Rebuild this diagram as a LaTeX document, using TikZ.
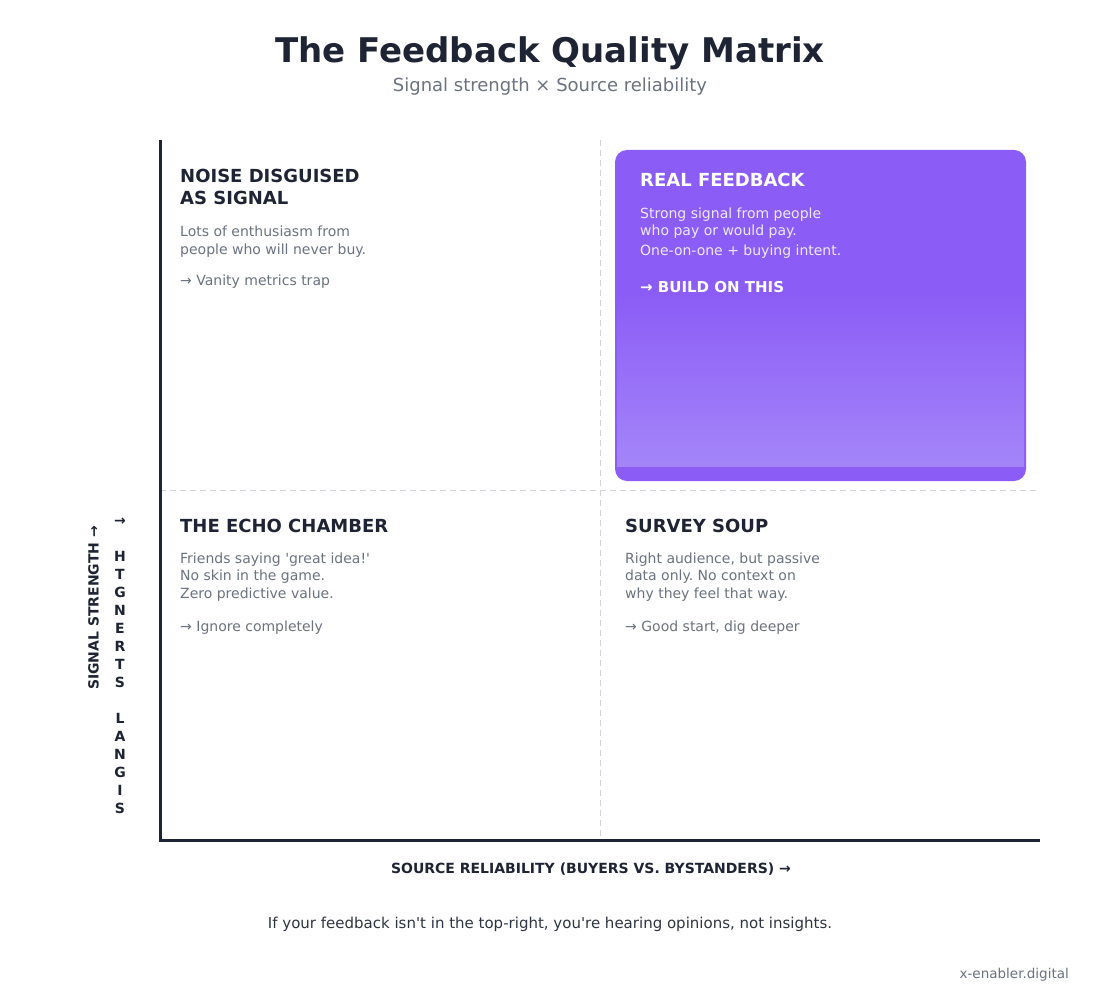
\documentclass[tikz,border=0pt]{standalone}
\usepackage{fontspec}
\setmainfont{DejaVu Sans}
\usetikzlibrary{positioning,calc}
\frenchspacing
\definecolor{InkDark}{HTML}{1E2433}
\definecolor{MutedGray}{HTML}{6B7280}
\definecolor{QuoteInk}{HTML}{2D3442}
\definecolor{GridGray}{HTML}{D1D5DB}
\definecolor{VioletMain}{HTML}{8B5CF6}
\definecolor{VioletLight}{HTML}{A485F9}
\definecolor{VioletText}{HTML}{EEE9FE}

\begin{document}
\begin{tikzpicture}[x=1pt, y=-1pt,
    every node/.style={inner sep=0pt, align=left},
    titletext/.style={anchor=base, font=\fontsize{34}{40}\selectfont\bfseries, text=InkDark},
    subtext/.style={anchor=base, font=\fontsize{18}{22}\selectfont, text=MutedGray},
    quadhead/.style={anchor=base west, font=\fontsize{18}{22}\selectfont\bfseries, text=InkDark},
    quadbody/.style={anchor=base west, font=\fontsize{14}{17.5}\selectfont, text=MutedGray},
    realhead/.style={quadhead, text=white},
    realbody/.style={quadbody, text=VioletText},
    realnote/.style={anchor=base west, font=\fontsize{15}{18}\selectfont\bfseries, text=white},
    axistext/.style={font=\fontsize{14}{18}\selectfont\bfseries, text=InkDark},
    axisline/.style={draw=InkDark, line width=3pt},
    gridline/.style={draw=GridGray, line width=1pt, dash pattern=on 6pt off 4pt}
  ]
    % canvas
    \fill[white] (0,0) rectangle (1100,1000);
    \useasboundingbox (0,0) rectangle (1100,1000);

    \node[titletext] (title) at (550,63) {The Feedback Quality Matrix};
    \node[subtext] (subtitle) at (550,92) {Signal strength × Source reliability};

    % axes and grid
    \coordinate (origin) at (160,840);
    \coordinate (ytop) at (160,140);
    \coordinate (xend) at (1040,840);
    \coordinate (midtop) at (600,140);
    \coordinate (midbot) at (600,840);
    \coordinate (midleft) at (160,490);
    \coordinate (midright) at (1040,490);
    \draw[gridline] (midtop) -- (midbot);
    \draw[gridline] (midleft) -- (midright);
    \draw[axisline] ([yshift=-1.5pt]origin) -- (ytop);
    \draw[axisline] (origin) -- (xend);

    % highlighted quadrant
    \fill[VioletMain, rounded corners=12pt] (615,150) rectangle (1026,481);
    \shade[top color=VioletMain, bottom color=VioletLight] (617,290) rectangle (1024,466);

    % quadrants (multi-line nodes sit on their last baseline)
    \node[quadhead] (noisehead) at (180,205) {NOISE DISGUISED\\AS SIGNAL};
    \node[quadbody] (noisebody) at (180,254.5) {Lots of enthusiasm from\\people who will never buy.};
    \node[quadbody] (noisenote) at (180,286) {→ Vanity metrics trap};

    \node[realhead] (realhead) at (640,187) {REAL FEEDBACK};
    \node[realbody] (realbody) at (640,256) {Strong signal from people\\who pay or would pay.\\[2.5pt]One-on-one + buying intent.};
    \node[realnote] (realnote) at (640,292) {→ BUILD ON THIS};

    \node[quadhead] (echohead) at (180,532) {THE ECHO CHAMBER};
    \node[quadbody] (echobody) at (180,598) {Friends saying \textquotesingle great idea!\textquotesingle\\No skin in the game.\\Zero predictive value.};
    \node[quadbody] (echonote) at (180,631) {→ Ignore completely};

    \node[quadhead] (souphead) at (625,532) {SURVEY SOUP};
    \node[quadbody] (soupbody) at (625,598) {Right audience, but passive\\data only. No context on\\why they feel that way.};
    \node[quadbody] (soupnote) at (625,631) {→ Good start, dig deeper};

    % axis labels
    \node[axistext, anchor=base] (xlabel) at (591,873) {SOURCE RELIABILITY (BUYERS VS. BYSTANDERS) →};
    \node[axistext, rotate=90] (ylabel) at (93.5,608) {SIGNAL STRENGTH →};
    \foreach \ch/\k in {→/0, H/2, T/3, G/4, N/5, E/6, R/7, T/8, S/9, L/11, A/12, N/13, G/14, I/15, S/16}
      \node[axistext, anchor=base] (ystack\k) at (120,525+18*\k) {\ch};

    % footer
    \node[anchor=base, font=\fontsize{15}{18}\selectfont, text=QuoteInk] (quote) at (550,928) {If your feedback isn\textquotesingle t in the top-right, you\textquotesingle re hearing opinions, not insights.};
    \node[anchor=base east, font=\fontsize{13.5}{16}\selectfont, text=MutedGray] (brand) at (1069,978) {x-enabler.digital};
  \end{tikzpicture}
\end{document}
